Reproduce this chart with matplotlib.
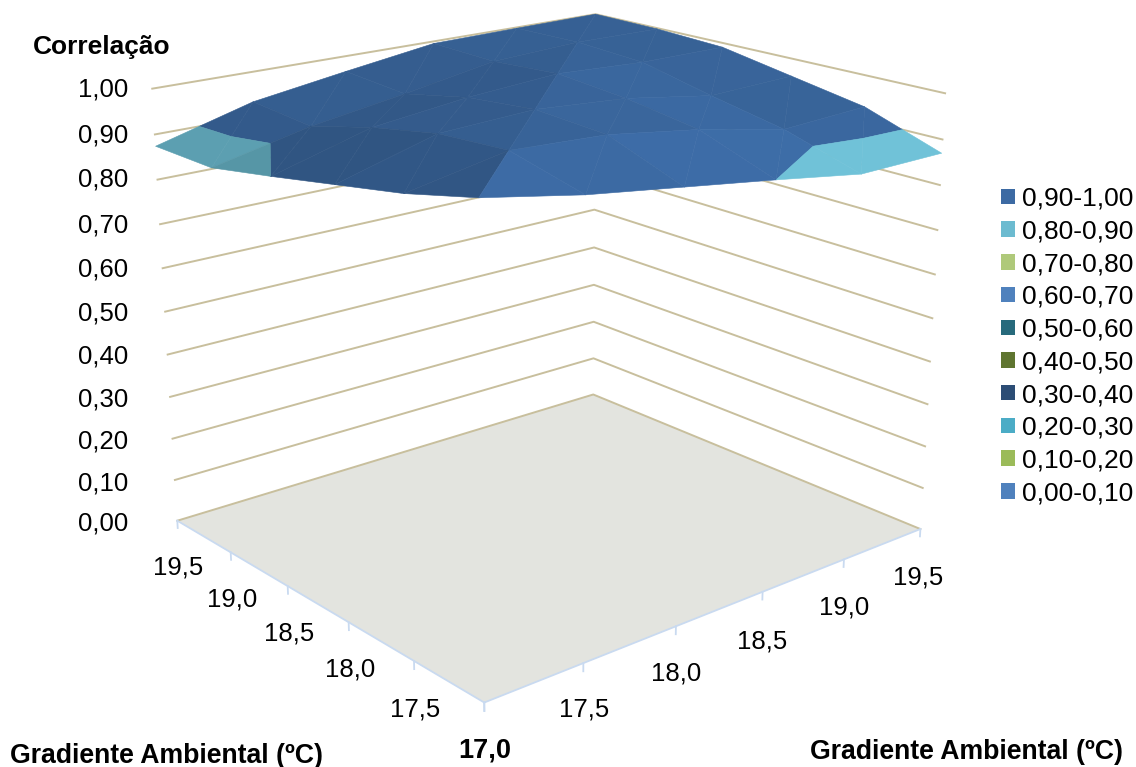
import numpy as np
import matplotlib
matplotlib.use('Agg')
import matplotlib.pyplot as plt
from matplotlib.patches import Patch
from mpl_toolkits.mplot3d.art3d import Poly3DCollection

plt.rcParams['font.family'] = ['Liberation Sans', 'DejaVu Sans']

# dados
gradiente = [17.0, 17.5, 18.0, 18.5, 19.0, 19.5]
gradiente_labels = ['17,0', '17,5', '18,0', '18,5', '19,0', '19,5']
correlacao = [
    [1.000, 0.960, 0.930, 0.900, 0.872, 0.874],
    [0.960, 1.000, 0.990, 0.960, 0.920, 0.933],
    [0.930, 0.990, 1.000, 0.985, 0.953, 0.965],
    [0.900, 0.960, 0.985, 1.000, 0.990, 0.995],
    [0.868, 0.920, 0.953, 0.990, 1.000, 0.998],
    [0.870, 0.930, 0.960, 0.990, 0.998, 1.000],
]
z_ticks = [0.0, 0.1, 0.2, 0.3, 0.4, 0.5, 0.6, 0.7, 0.8, 0.9, 1.0]
z_labels = ['0,00', '0,10', '0,20', '0,30', '0,40', '0,50', '0,60', '0,70', '0,80', '0,90', '1,00']
faixas = ['0,90-1,00', '0,80-0,90', '0,70-0,80', '0,60-0,70', '0,50-0,60',
          '0,40-0,50', '0,30-0,40', '0,20-0,30', '0,10-0,20', '0,00-0,10']
faixa_cores = ['#3c6aa3', '#6cbbd0', '#afc97a', '#4f81bd', '#276a7c',
               '#5f7530', '#2c4d75', '#4bacc6', '#9bbb59', '#4f81bd']

W, H = 1136, 767
fig = plt.figure(figsize=(W / 100, H / 100), dpi=100)
ax = fig.add_axes([0.08933, 0.00863, 0.76361, 1.13098], projection='3d', computed_zorder=False)
ax.set_xlim(17, 19.5); ax.set_ylim(17, 19.5); ax.set_zlim(0, 1)
ax.view_init(18.7254, -130.0249, 0.0531)
ax.set_proj_type('persp', focal_length=0.4836)
ax.set_box_aspect((1.2516, 1.116, 1.0))
ax.set_axis_off()

TAN = '#c8bf9d'
AZUL = '#c9daf0'
xs = np.array(gradiente)
ys = np.array(gradiente)
x0, x1, y0, y1 = xs[0], xs[-1], ys[0], ys[-1]

# chao
piso = Poly3DCollection([[(x0, y0, 0), (x1, y0, 0), (x1, y1, 0), (x0, y1, 0)]],
                        facecolor='#e3e4df', edgecolor='none', zorder=1)
ax.add_collection3d(piso)

# linhas de grade nas paredes
for z in z_ticks:
    ax.plot([x0, x1, x1], [y1, y1, y0], [z, z, z], color=TAN, lw=1.4, zorder=2, clip_on=False)

# bordas da frente e marcas
ax.plot([x0, x0], [y1, y0], [0, 0], color=AZUL, lw=1.3, zorder=3, clip_on=False)
ax.plot([x0, x1], [y0, y0], [0, 0], color=AZUL, lw=1.3, zorder=3, clip_on=False)
for g in gradiente:
    ax.plot([x0, x0], [g, g], [0, -0.018], color=AZUL, lw=1.3, zorder=3, clip_on=False)
    ax.plot([g, g], [y0, y0], [0, -0.018], color=AZUL, lw=1.3, zorder=3, clip_on=False)


def corta(tri, nivel):
    # separa um triangulo nas partes acima e abaixo do nivel
    cima, baixo = [], []
    for k in range(3):
        a, b = tri[k], tri[(k + 1) % 3]
        if a[2] >= nivel:
            cima.append(a)
        if a[2] <= nivel:
            baixo.append(a)
        if (a[2] - nivel) * (b[2] - nivel) < 0:
            t = (nivel - a[2]) / (b[2] - a[2])
            m = tuple(np.array(a) + t * (np.array(b) - np.array(a)))
            cima.append(m)
            baixo.append(m)
    return cima, baixo


def tom(cor, f):
    rgb = np.array(matplotlib.colors.to_rgb(cor)) * f
    return tuple(np.clip(rgb, 0, 1))


polys, cores = [], []
Zs = np.array(correlacao)
for i in range(5):
    for j in range(5):
        cantos = [(i, j), (i + 1, j), (i + 1, j + 1), (i, j + 1)]
        # fora da diagonal a celula inteira fica com um tom so
        dx_cel = (Zs[i + 1, j] - Zs[i, j] + Zs[i + 1, j + 1] - Zs[i, j + 1]) / 2
        dy_cel = (Zs[i, j + 1] - Zs[i, j] + Zs[i + 1, j + 1] - Zs[i + 1, j]) / 2
        for ids in ([cantos[0], cantos[1], cantos[2]], [cantos[0], cantos[2], cantos[3]]):
            if i == j:
                tri_idx = np.array([(a, b, Zs[a, b]) for a, b in ids])
                nrm = np.cross(tri_idx[1] - tri_idx[0], tri_idx[2] - tri_idx[0])
                dzdx, dzdy = -nrm[0] / nrm[2], -nrm[1] / nrm[2]
            else:
                dzdx, dzdy = dx_cel, dy_cel
            f = np.clip(0.91 + 1.25 * (dzdy - dzdx), 0.80, 1.03)
            tri = [(xs[a], ys[b], Zs[a, b]) for a, b in ids]
            cima, baixo = corta(tri, 0.9)
            if len(cima) >= 3:
                polys.append(cima); cores.append(tom(faixa_cores[0], f))
            if len(baixo) >= 3:
                # o lado direito fica mais claro, como na figura
                f_baixo = 1.04 if i > j else f
                polys.append(baixo); cores.append(tom(faixa_cores[1], f_baixo))
sup = Poly3DCollection(polys, facecolors=cores, edgecolors=cores, linewidths=0.4, zorder=5)
ax.add_collection3d(sup)

# textos
FS = 18.5
def txt(x, y, s, **kw):
    fig.text(x / W, 1 - (y + 2) / H, s, fontsize=kw.pop('fontsize', FS), va='center', **kw)

z_y = [521, 481, 439, 397, 355, 312, 268, 224, 178, 133, 88]
for lab, y in zip(z_labels, z_y):
    txt(128, y, lab, ha='right')
esq_xy = [(415, 707), (350, 668), (289, 632), (232, 598), (178, 566)]
dir_xy = [(584, 708), (676, 672), (762, 639), (844, 605), (918, 576)]
for lab, (x, y) in zip(gradiente_labels[1:], esq_xy):
    txt(x, y, lab, ha='center')
for lab, (x, y) in zip(gradiente_labels[1:], dir_xy):
    txt(x, y, lab, ha='center')
txt(485, 748, gradiente_labels[0], ha='center', fontweight='bold', fontsize=19.5)
txt(102, 45, 'Correlação', ha='center', fontweight='bold', fontsize=19)
txt(167, 754, 'Gradiente Ambiental (ºC)', ha='center', fontweight='bold', fontsize=19.2)
txt(967, 750, 'Gradiente Ambiental (ºC)', ha='center', fontweight='bold', fontsize=19.2)

handles = [Patch(facecolor=c, edgecolor='none') for c in faixa_cores]
fig.legend(handles, faixas, loc='center left', bbox_to_anchor=(1001 / W, 1 - 346 / H), frameon=False,
           fontsize=19, handlelength=0.53, handleheight=0.53, handletextpad=0.27,
           labelspacing=0.33, borderpad=0, borderaxespad=0)

fig.savefig('out.png', dpi=100, facecolor='white')
